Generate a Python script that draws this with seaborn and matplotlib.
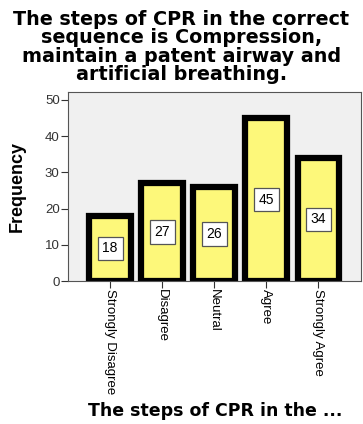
import pandas as pd
import seaborn as sns
import matplotlib
matplotlib.use("Agg")
import matplotlib.pyplot as plt

# data
categories = ["Strongly Disagree", "Disagree", "Neutral", "Agree", "Strongly Agree"]
counts = [18, 27, 26, 45, 34]
yticks = [0, 10, 20, 30, 40, 50]

df = pd.DataFrame({"answer": categories, "Frequency": counts})

sns.set_style("white")
plt.rcParams["font.family"] = ["Liberation Sans", "DejaVu Sans"]
plt.rcParams["text.color"] = "black"

fig = plt.figure(figsize=(3.63, 4.24), dpi=100)
ax = fig.add_axes([68 / 363, 1 - 281 / 424, 293 / 363, 189 / 424])

sns.barplot(data=df, x="answer", y="Frequency", color="#fdf87a",
            edgecolor="black", linewidth=4.5, width=0.8, saturation=1, ax=ax)

for i, v in enumerate(counts):
    ax.text(i, v / 2, str(v), ha="center", va="center", fontsize=10,
            bbox=dict(boxstyle="square,pad=0.35", fc="white", ec="#555555", lw=0.9))

ax.set_facecolor("#f0f0f0")
ax.set_xlim(-0.81, 4.82)
ax.set_ylim(0, 52.2)
ax.set_yticks(yticks)
ax.tick_params(axis="y", direction="out", length=5, width=0.8, labelsize=9.5,
               left=True, pad=1, colors="#333333")
ax.tick_params(axis="x", direction="out", length=5, width=0.8, labelsize=9.5,
               bottom=True, pad=1, colors="#333333")
plt.setp(ax.get_xticklabels(), rotation=270, color="black")
plt.setp(ax.get_yticklabels(), color="#333333")
for s in ax.spines.values():
    s.set_color("#555555")
    s.set_linewidth(0.8)

ax.set_ylabel("Frequency", fontsize=13, fontweight="bold", color="black")
ax.yaxis.set_label_coords(-0.145, 0.5)
ax.set_xlabel("")
fig.text(215 / 363, 1 - 411 / 424, "The steps of CPR in the ...", ha="center", va="center",
         fontsize=12.5, fontweight="bold", family="DejaVu Sans")
fig.text(0.5, 1 - 47 / 424,
         "The steps of CPR in the correct\nsequence is Compression,\n"
         "maintain a patent airway and\nartificial breathing.",
         ha="center", va="center", fontsize=13.8, fontweight="bold",
         family="DejaVu Sans", linespacing=0.96)

fig.savefig("out.png", dpi=100)
